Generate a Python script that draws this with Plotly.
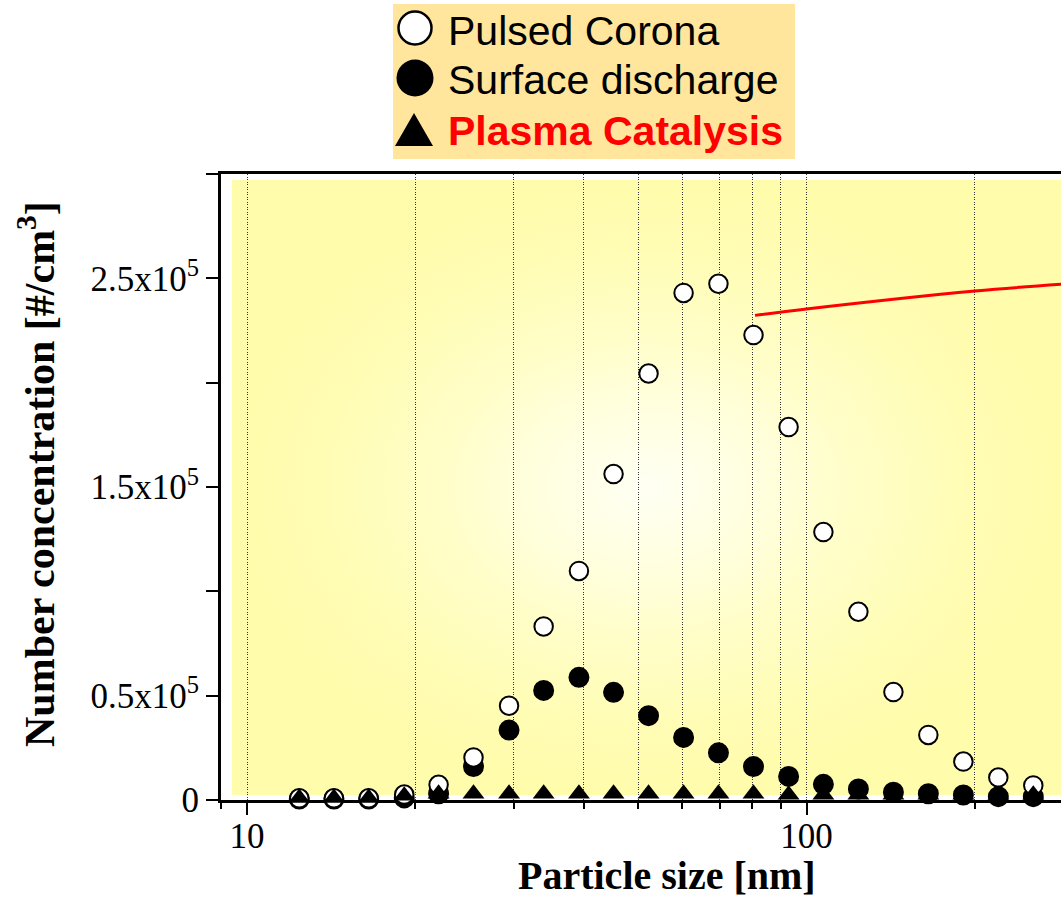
import base64
import plotly.graph_objects as go

# Mobility diameter of each size channel [nm]
diameter_nm = [12.4, 14.3, 16.5, 19.1, 22.0, 25.4, 29.4, 33.9, 39.2, 45.2, 52.2,
               60.3, 69.6, 80.4, 92.9, 107.2, 123.8, 143.0, 165.1, 190.7, 220.2, 254.3]

# Number concentration per channel [#/cm3]
pulsed_corona = [800, 800, 800, 2600, 7300, 20400, 45200, 83200, 109800, 156200, 204400,
                 243000, 247400, 222800, 178700, 128400, 90200, 51700, 31200, 18400, 10800, 7000]
surface_discharge = [500, 500, 500, 1000, 3000, 16000, 33500, 52500, 58800, 51600, 40400,
                     30000, 22600, 16000, 11300, 7500, 5300, 3700, 3000, 2400, 1600, 1600]
plasma_catalysis = [1000, 1000, 1000, 2000, 3000, 3000, 3000, 3000, 3000, 3000, 3000,
                    3000, 3000, 3000, 2500, 2500, 2500, 2500, 2500, 2500, 2500, 2500]

# Red call-out leader line
callout_x = [80.9, 100, 200, 290]
callout_y = [232250, 235300, 243900, 247300]

# Axis ticks
y_tickvals = [0, 50000, 100000, 150000, 200000, 250000, 300000]
y_ticktext = ["0", "0.5x10<sup>5</sup>", "", "1.5x10<sup>5</sup>", "", "2.5x10<sup>5</sup>", ""]
x_tickvals = [10, 100]
x_ticktext = ["10", "100"]
x_minor_vals = [9, 20, 30, 40, 50, 60, 70, 80, 90, 200]

legend_names = ["Pulsed Corona", "Surface discharge", "Plasma Catalysis"]

SERIF = "Liberation Serif, Times New Roman, serif"
SANS = "Liberation Sans, Arial, sans-serif"

W, H = 1061, 898
L, R, T, B = 221, 0, 174, 98
PW, PH = W - L - R, H - T - B


def paper_x(px):
    return (px - L) / PW


def paper_y(py):
    return (H - B - py) / PH


# Soft radial yellow background behind the plot area
svg = (
    "<svg xmlns='http://www.w3.org/2000/svg' width='830' height='615' "
    "viewBox='0 0 830 615' preserveAspectRatio='none'>"
    "<defs><radialGradient id='g' cx='0.5' cy='0.5' r='0.5'>"
    "<stop offset='0' stop-color='#FFFFF4'/>"
    "<stop offset='0.25' stop-color='#FFFFE0'/>"
    "<stop offset='0.5' stop-color='#FFFEC8'/>"
    "<stop offset='0.75' stop-color='#FFFDB6'/>"
    "<stop offset='1' stop-color='#FFFCAC'/>"
    "</radialGradient></defs>"
    "<rect width='830' height='615' fill='url(#g)'/></svg>"
)
bg_src = "data:image/svg+xml;base64," + base64.b64encode(svg.encode()).decode()

fig = go.Figure()

fig.add_trace(go.Scatter(
    x=diameter_nm, y=surface_discharge, mode="markers", name=legend_names[1],
    cliponaxis=False,
    marker=dict(symbol="circle", size=19, color="black", line=dict(color="black", width=2)),
))
fig.add_trace(go.Scatter(
    x=diameter_nm, y=pulsed_corona, mode="markers", name=legend_names[0],
    cliponaxis=False,
    marker=dict(symbol="circle", size=18.5, color="white", line=dict(color="black", width=2)),
))
fig.add_trace(go.Scatter(
    x=diameter_nm, y=plasma_catalysis, mode="markers", name=legend_names[2],
    cliponaxis=False,
    marker=dict(symbol="triangle-up", size=19, color="black", line=dict(width=0)),
))
fig.add_trace(go.Scatter(
    x=callout_x, y=callout_y, mode="lines", showlegend=False, hoverinfo="skip",
    line=dict(color="#FF0000", width=3, shape="spline"),
))

# Legend panel drawn by hand so the symbols can be large
shapes = [
    dict(type="rect", xref="paper", yref="paper",
         x0=paper_x(393), x1=paper_x(795), y0=paper_y(159), y1=paper_y(4),
         fillcolor="#FFE69C", line=dict(width=0), layer="below"),
    dict(type="circle", xref="paper", yref="paper", xsizemode="pixel", ysizemode="pixel",
         xanchor=paper_x(415), yanchor=paper_y(28), x0=-16.5, x1=16.5, y0=-16.5, y1=16.5,
         fillcolor="white", line=dict(color="black", width=2.5)),
    dict(type="circle", xref="paper", yref="paper", xsizemode="pixel", ysizemode="pixel",
         xanchor=paper_x(415), yanchor=paper_y(78), x0=-18.5, x1=18.5, y0=-18.5, y1=18.5,
         fillcolor="black", line=dict(color="black", width=0)),
    dict(type="path", xref="paper", yref="paper", xsizemode="pixel", ysizemode="pixel",
         xanchor=paper_x(414), yanchor=paper_y(130), path="M-19,-16L19,-16L0,17Z",
         fillcolor="black", line=dict(color="black", width=0)),
]

LEG_FONT = 41
annotations = [
    dict(text=legend_names[0], xref="paper", yref="paper", x=paper_x(446), y=paper_y(31),
         xanchor="left", yanchor="middle", showarrow=False,
         font=dict(family=SANS, size=LEG_FONT, color="black")),
    dict(text=legend_names[1], xref="paper", yref="paper", x=paper_x(446), y=paper_y(79.5),
         xanchor="left", yanchor="middle", showarrow=False,
         font=dict(family=SANS, size=LEG_FONT, color="black")),
    dict(text="<b>" + legend_names[2] + "</b>", xref="paper", yref="paper", x=paper_x(446),
         y=paper_y(130.5), xanchor="left", yanchor="middle", showarrow=False,
         font=dict(family=SANS, size=LEG_FONT, color="#FF0000")),
    dict(text="<b>Number concentration [#/cm<sup>3</sup>]</b>", xref="paper", yref="paper",
         x=paper_x(36.5), y=paper_y(474.5), xanchor="center", yanchor="middle",
         textangle=-90, showarrow=False, font=dict(family=SERIF, size=42, color="black")),
    dict(text="<b>Particle size [nm]</b>", xref="paper", yref="paper",
         x=paper_x(667), y=paper_y(875), xanchor="center", yanchor="middle",
         showarrow=False, font=dict(family=SERIF, size=40, color="black")),
]

fig.update_layout(
    width=W, height=H,
    margin=dict(l=L, r=R, t=T, b=B, pad=0),
    paper_bgcolor="white",
    plot_bgcolor="rgba(0,0,0,0)",
    showlegend=False,
    shapes=shapes,
    annotations=annotations,
    images=[dict(source=bg_src, xref="paper", yref="paper",
                 x=paper_x(232), y=paper_y(180), sizex=1 - paper_x(232),
                 sizey=paper_y(180) - paper_y(795), xanchor="left", yanchor="top",
                 sizing="stretch", layer="below")],
)

fig.update_xaxes(
    type="log", range=[0.95353, 2.45487],
    tickmode="array", tickvals=x_tickvals, ticktext=x_ticktext,
    ticks="outside", ticklen=12, tickwidth=2, tickcolor="black",
    ticklabelstandoff=-9,
    tickfont=dict(family=SERIF, size=35, color="black"),
    showline=True, linewidth=3, linecolor="black", mirror=True,
    showgrid=True, gridcolor="#333333", gridwidth=1, griddash="1px,1.5px",
    minor=dict(tickmode="array", tickvals=x_minor_vals, ticks="outside", ticklen=6,
               tickwidth=1.5, tickcolor="black", showgrid=True, gridcolor="#333333",
               gridwidth=1, griddash="1px,1.5px"),
    zeroline=False, layer="below traces",
)
fig.update_yaxes(
    range=[0, 300000],
    tickmode="array", tickvals=y_tickvals, ticktext=y_ticktext,
    ticks="outside", ticklen=12, tickwidth=2, tickcolor="black",
    tickfont=dict(family=SERIF, size=35, color="black"),
    showline=True, linewidth=3, linecolor="black", mirror=False,
    showgrid=False, zeroline=False, layer="below traces",
)

fig.write_html("out.html")
